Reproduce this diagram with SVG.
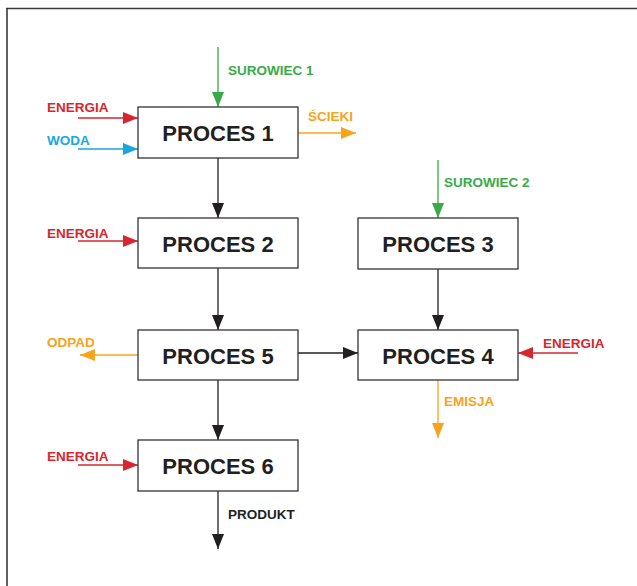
<svg xmlns="http://www.w3.org/2000/svg" width="637" height="586" viewBox="0 0 637 586">
  <style>
    .box { fill: #ffffff; stroke: #333333; stroke-width: 1.3; }
    .title { font-family: "Liberation Sans", Arial, sans-serif; font-weight: bold; font-size: 22px; fill: #231f20; text-anchor: middle; }
    .lbl { font-family: "Liberation Sans", Arial, sans-serif; font-weight: bold; font-size: 13.5px; }
    .flow { fill: none; stroke-width: 1.3; }
    .k { stroke: #231f20; }
    .g { stroke: #3aaa48; }
    .r { stroke: #d7262e; }
    .b { stroke: #1aa7e0; }
    .o { stroke: #f8a31c; }
  </style>
  <defs>
    <marker id="ah-k" viewBox="0 0 15 12" refX="15" refY="6" markerWidth="15" markerHeight="12" markerUnits="userSpaceOnUse" orient="auto"><path d="M0,0 L15,6 L0,12 Z" fill="#231f20"/></marker>
    <marker id="ah-g" viewBox="0 0 15 12" refX="15" refY="6" markerWidth="15" markerHeight="12" markerUnits="userSpaceOnUse" orient="auto"><path d="M0,0 L15,6 L0,12 Z" fill="#3aaa48"/></marker>
    <marker id="ah-r" viewBox="0 0 15 12" refX="15" refY="6" markerWidth="15" markerHeight="12" markerUnits="userSpaceOnUse" orient="auto"><path d="M0,0 L15,6 L0,12 Z" fill="#d7262e"/></marker>
    <marker id="ah-b" viewBox="0 0 15 12" refX="15" refY="6" markerWidth="15" markerHeight="12" markerUnits="userSpaceOnUse" orient="auto"><path d="M0,0 L15,6 L0,12 Z" fill="#1aa7e0"/></marker>
    <marker id="ah-o" viewBox="0 0 15 12" refX="15" refY="6" markerWidth="15" markerHeight="12" markerUnits="userSpaceOnUse" orient="auto"><path d="M0,0 L15,6 L0,12 Z" fill="#f8a31c"/></marker>
  </defs>

  <rect width="637" height="586" fill="#ffffff"/>
  <!-- frame edges -->
  <path d="M6,8.5 H637 M7,8 V586" fill="none" stroke="#3a3a3a" stroke-width="1.6"/>

  <g id="connectors">
    <line class="flow g" x1="218" y1="47" x2="218" y2="107" marker-end="url(#ah-g)"/>
    <line class="flow r" x1="78" y1="118" x2="138" y2="118" marker-end="url(#ah-r)"/>
    <line class="flow b" x1="78" y1="149" x2="138" y2="149" marker-end="url(#ah-b)"/>
    <line class="flow o" x1="298" y1="133" x2="356" y2="133" marker-end="url(#ah-o)"/>
    <line class="flow k" x1="218" y1="158" x2="218" y2="218" marker-end="url(#ah-k)"/>
    <line class="flow r" x1="78" y1="241" x2="138" y2="241" marker-end="url(#ah-r)"/>
    <line class="flow g" x1="438" y1="160" x2="438" y2="218" marker-end="url(#ah-g)"/>
    <line class="flow k" x1="218" y1="268" x2="218" y2="330" marker-end="url(#ah-k)"/>
    <line class="flow k" x1="438" y1="269" x2="438" y2="330" marker-end="url(#ah-k)"/>
    <line class="flow k" x1="298" y1="353" x2="358" y2="353" marker-end="url(#ah-k)"/>
    <line class="flow o" x1="138" y1="355" x2="80" y2="355" marker-end="url(#ah-o)"/>
    <line class="flow r" x1="578" y1="353" x2="518" y2="353" marker-end="url(#ah-r)"/>
    <line class="flow o" x1="438" y1="380" x2="438" y2="438" marker-end="url(#ah-o)"/>
    <line class="flow k" x1="218" y1="380" x2="218" y2="440" marker-end="url(#ah-k)"/>
    <line class="flow r" x1="78" y1="465" x2="138" y2="465" marker-end="url(#ah-r)"/>
    <line class="flow k" x1="218" y1="491" x2="218" y2="549" marker-end="url(#ah-k)"/>

    <text class="lbl" x="228" y="75" fill="#3aaa48">SUROWIEC 1</text>
    <text class="lbl" x="47" y="112" fill="#d7262e">ENERGIA</text>
    <text class="lbl" x="47" y="145" fill="#1aa7e0">WODA</text>
    <text class="lbl" x="308" y="121" fill="#f8a31c">ŚCIEKI</text>
    <text class="lbl" x="47" y="238" fill="#d7262e">ENERGIA</text>
    <text class="lbl" x="444" y="187" fill="#3aaa48">SUROWIEC 2</text>
    <text class="lbl" x="47" y="347" fill="#f8a31c">ODPAD</text>
    <text class="lbl" x="543" y="348" fill="#d7262e">ENERGIA</text>
    <text class="lbl" x="444" y="406" fill="#f8a31c">EMISJA</text>
    <text class="lbl" x="47" y="461" fill="#d7262e">ENERGIA</text>
    <text class="lbl" x="228" y="519" fill="#231f20">PRODUKT</text>
  </g>

  <g id="proces1"><rect class="box" x="138" y="107" width="160" height="51"/><text class="title" x="218" y="141">PROCES 1</text></g>
  <g id="proces2"><rect class="box" x="138" y="218" width="160" height="50"/><text class="title" x="218" y="252">PROCES 2</text></g>
  <g id="proces3"><rect class="box" x="358" y="218" width="160" height="51"/><text class="title" x="438" y="252">PROCES 3</text></g>
  <g id="proces5"><rect class="box" x="138" y="330" width="160" height="50"/><text class="title" x="218" y="364">PROCES 5</text></g>
  <g id="proces4"><rect class="box" x="358" y="330" width="160" height="50"/><text class="title" x="438" y="364">PROCES 4</text></g>
  <g id="proces6"><rect class="box" x="138" y="440" width="160" height="51"/><text class="title" x="218" y="474">PROCES 6</text></g>
</svg>
